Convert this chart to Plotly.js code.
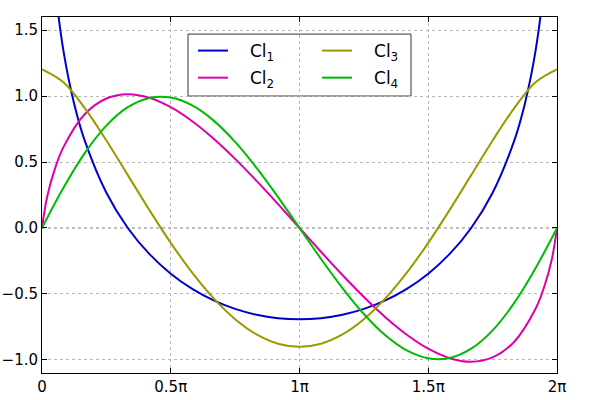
<!DOCTYPE html>
<html>
<head>
<meta charset="utf-8">
<script src="https://cdn.plot.ly/plotly-3.0.1.min.js"></script>
<style>html,body{margin:0;padding:0;background:#fff;}#chart{width:600px;height:400px;}</style>
</head>
<body>
<div id="chart"></div>
<script>
// x in units of pi
const xCl1 = [0.03, 0.05, 0.0833, 0.125, 0.1667, 0.25, 0.3333, 0.4167, 0.5, 0.5833, 0.6667, 0.75, 0.8333, 0.9167, 1,
  1.0833, 1.1667, 1.25, 1.3333, 1.4167, 1.5, 1.5833, 1.6667, 1.75, 1.8333, 1.875, 1.9167, 1.95, 1.97];
const yCl1 = [2.362, 1.852, 1.343, 0.941, 0.6585, 0.2674, 0, -0.1968, -0.3466, -0.4617, -0.5493, -0.6140, -0.6585, -0.6846, -0.6931,
  -0.6846, -0.6585, -0.6140, -0.5493, -0.4617, -0.3466, -0.1968, 0, 0.2674, 0.6585, 0.941, 1.343, 1.852, 2.362];

const xCl2 = [0, 0.02, 0.05, 0.0833, 0.1667, 0.25, 0.3333, 0.4167, 0.5, 0.5833, 0.6667, 0.75, 0.8333, 0.9167, 1,
  1.0833, 1.1667, 1.25, 1.3333, 1.4167, 1.5, 1.5833, 1.6667, 1.75, 1.8333, 1.9167, 1.95, 1.98, 2];
const yCl2 = [0, 0.2367, 0.4479, 0.6129, 0.8644, 0.9819, 1.0149, 0.9879, 0.9160, 0.8095, 0.6766, 0.5239, 0.3569, 0.1807, 0,
  -0.1807, -0.3569, -0.5239, -0.6766, -0.8095, -0.9160, -0.9879, -1.0149, -0.9819, -0.8644, -0.6129, -0.4479, -0.2367, 0];

const xGrid = [0, 0.0833, 0.1667, 0.25, 0.3333, 0.4167, 0.5, 0.5833, 0.6667, 0.75, 0.8333, 0.9167, 1,
  1.0833, 1.1667, 1.25, 1.3333, 1.4167, 1.5, 1.5833, 1.6667, 1.75, 1.8333, 1.9167, 2];
const yCl3 = [1.2021, 1.1047, 0.9075, 0.6636, 0.4007, 0.1374, -0.1127, -0.3392, -0.5343, -0.6918, -0.8073, -0.8778, -0.9015,
  -0.8778, -0.8073, -0.6918, -0.5343, -0.3392, -0.1127, 0.1374, 0.4007, 0.6636, 0.9075, 1.1047, 1.2021];
const yCl4 = [0, 0.3052, 0.5700, 0.7763, 0.9158, 0.9861, 0.9889, 0.9292, 0.8141, 0.6527, 0.4555, 0.2339, 0,
  -0.2339, -0.4555, -0.6527, -0.8141, -0.9292, -0.9889, -0.9861, -0.9158, -0.7763, -0.5700, -0.3052, 0];

const names = ['Cl<sub>1</sub>', 'Cl<sub>2</sub>', 'Cl<sub>3</sub>', 'Cl<sub>4</sub>'];
const colors = ['#0000cc', '#dd00aa', '#999900', '#00bb00'];

const xTickVals = [0, 0.5, 1, 1.5, 2];
const xTickText = ['0', '0.5π', '1π', '1.5π', '2π'];
const yTickVals = [-1, -0.5, 0, 0.5, 1, 1.5];

const series = [[xCl1, yCl1], [xCl2, yCl2], [xGrid, yCl3], [xGrid, yCl4]];
const legendOf = ['legend', 'legend', 'legend2', 'legend2'];
const traces = series.map((s, i) => ({
  x: s[0], y: s[1], type: 'scatter', mode: 'lines', name: '\u2002\u2002' + names[i],
  line: {color: colors[i], width: 2, shape: 'spline', smoothing: 1},
  legend: legendOf[i], legendgroup: 'g' + i
}));

const font = {family: 'DejaVu Sans, sans-serif', size: 15, color: '#000'};
const axisCommon = {
  showline: true, linecolor: '#000', linewidth: 1, mirror: 'ticks',
  ticks: 'inside', ticklen: 5, tickcolor: '#000', tickwidth: 1,
  showgrid: true, gridcolor: '#b8b8b8', griddash: 'dot', gridwidth: 1,
  zeroline: false, tickfont: font
};

const legendCommon = {
  bgcolor: 'rgba(0,0,0,0)', borderwidth: 0, font: {family: 'DejaVu Sans, sans-serif', size: 17, color: '#000'},
  orientation: 'v', xanchor: 'left', yanchor: 'top', itemwidth: 30, traceorder: 'grouped', tracegroupgap: 2
};

const layout = {
  width: 600, height: 400,
  margin: {l: 42, r: 43, t: 17, b: 27},
  paper_bgcolor: '#fff', plot_bgcolor: '#fff',
  font: font,
  xaxis: Object.assign({}, axisCommon, {range: [0, 2], tickvals: xTickVals, ticktext: xTickText}),
  yaxis: Object.assign({}, axisCommon, {range: [-1.1, 1.6], tickvals: yTickVals, tickformat: '.1f'}),
  legend: Object.assign({}, legendCommon, {x: 0.2932, y: 0.955}),
  legend2: Object.assign({}, legendCommon, {x: 0.534, y: 0.955}),
  shapes: [
    {type: 'line', xref: 'paper', yref: 'y', x0: 0, x1: 1, y0: 0, y1: 0, line: {color: '#808080', width: 1, dash: 'dot'}, layer: 'below'},
    {type: 'rect', xref: 'paper', yref: 'paper', x0: 0.2835, x1: 0.7165, y0: 0.778, y1: 0.952, line: {color: '#333', width: 1}, fillcolor: '#fff', layer: 'below'}
  ],
  showlegend: true
};

Plotly.newPlot('chart', traces, layout, {staticPlot: true, displayModeBar: false});
</script>
</body>
</html>
